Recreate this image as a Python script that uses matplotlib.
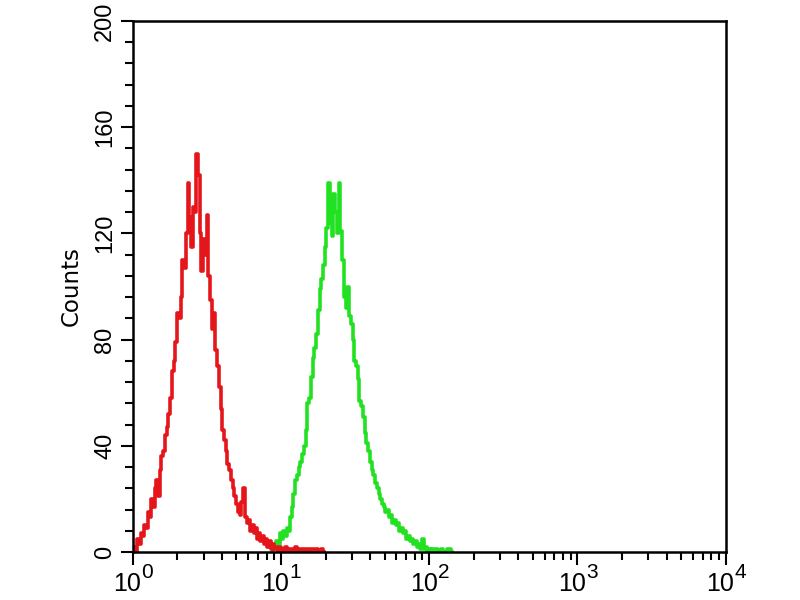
import numpy as np
import matplotlib
matplotlib.use("Agg")
import matplotlib.pyplot as plt
from matplotlib.ticker import MultipleLocator, LogLocator, NullFormatter
from matplotlib.transforms import offset_copy

# flow cytometry histogram, 1024 channels over 4 decades (256 ch / decade)
red_channels = [0, 3, 6, 9, 12, 15, 18, 21, 24, 27, 30, 33, 36, 39, 42, 45, 48, 51, 54, 57,
                60, 63, 66, 69, 72, 75, 78, 81, 84, 87, 90, 93, 96, 99, 102, 105, 108, 111, 114, 117,
                120, 123, 126, 129, 132, 135, 138, 141, 144, 147, 150, 153, 156, 159, 162, 165, 168, 171, 174, 177,
                180, 183, 186, 189, 192, 195, 198, 201, 204, 207, 210, 213, 216, 219, 222, 225, 228, 231, 234, 237,
                240, 243, 246, 249, 252, 255, 258, 261, 264, 267, 270, 273, 276, 279, 282, 285, 288, 291, 294, 297,
                300, 303, 306, 309, 312, 315, 318, 321, 324, 327, 330]
red_counts = [0, 2, 0, 5, 3, 7, 6, 10, 9, 15, 13, 20, 17, 24, 27, 21, 31, 36, 38, 44,
              47, 52, 58, 68, 72, 79, 90, 88, 96, 110, 107, 120, 139, 126, 115, 130, 128, 150, 142, 120,
              106, 118, 112, 127, 104, 95, 84, 90, 76, 70, 62, 54, 46, 42, 38, 33, 31, 27, 24, 21,
              18, 15, 14, 19, 24, 13, 11, 12, 8, 10, 7, 9, 5, 7, 4, 6, 3, 5, 2, 4,
              1, 3, 1, 2, 0, 2, 1, 0, 2, 0, 1, 0, 1, 0, 2, 0, 1, 0, 1, 0,
              1, 0, 1, 0, 1, 0, 1, 0, 0, 1, 0]

green_channels = [240, 243, 246, 249, 252, 255, 258, 261, 264, 267, 270, 273, 276, 279, 282, 285, 288, 291, 294, 297,
                  300, 303, 306, 309, 312, 315, 318, 321, 324, 327, 330, 333, 336, 339, 342, 345, 348, 351, 354, 357,
                  360, 363, 366, 369, 372, 375, 378, 381, 384, 387, 390, 393, 396, 399, 402, 405, 408, 411, 414, 417,
                  420, 423, 426, 429, 432, 435, 438, 441, 444, 447, 450, 453, 456, 459, 462, 465, 468, 471, 474, 477,
                  480, 483, 486, 489, 492, 495, 498, 501, 504, 507, 510, 513, 516, 519, 522, 525, 528, 531, 534, 537,
                  540, 546, 552]
green_counts = [0, 2, 1, 4, 3, 7, 5, 8, 6, 9, 8, 13, 17, 22, 27, 29, 32, 34, 37, 40,
                46, 56, 58, 66, 73, 77, 82, 91, 99, 103, 108, 115, 122, 139, 124, 119, 135, 128, 120, 139,
                121, 110, 96, 92, 100, 89, 86, 80, 72, 70, 65, 57, 55, 51, 45, 41, 38, 34, 31, 29,
                26, 24, 22, 20, 18, 17, 15, 16, 13, 14, 11, 12, 10, 11, 8, 9, 7, 8, 5, 6,
                4, 5, 3, 4, 2, 3, 1, 5, 1, 2, 0, 1, 0, 1, 0, 1, 0, 0, 1, 0,
                0, 1, 0]

yticks = [0, 40, 80, 120, 160, 200]
decades = [0, 1, 2, 3, 4]

plt.rcParams['font.family'] = ['Liberation Sans', 'DejaVu Sans']

fig = plt.figure(figsize=(8, 6), dpi=100)
ax = fig.add_axes([0.166, 0.08, 0.741, 0.885])

red_x = 10 ** (np.array(red_channels) / 256.0)
green_x = 10 ** (np.array(green_channels) / 256.0)
ax.step(green_x, green_counts, where='mid', color='#22e022', lw=2.6)
ax.step(red_x, red_counts, where='mid', color='#e5161b', lw=2.6)

ax.set_xscale('log')
ax.set_xlim(1, 1e4)
ax.set_ylim(0, 200)
ax.set_yticks(yticks)
ax.yaxis.set_minor_locator(MultipleLocator(8))
ax.xaxis.set_major_locator(LogLocator(base=10, numticks=10))
ax.xaxis.set_minor_locator(LogLocator(base=10, subs=np.arange(2, 10), numticks=20))
ax.xaxis.set_minor_formatter(NullFormatter())

for s in ax.spines.values():
    s.set_linewidth(1.8)
ax.tick_params(which='major', length=9, width=1.5, direction='out')
ax.tick_params(which='minor', length=5.5, width=1.5, direction='out')
ax.tick_params(axis='y', which='major', pad=3, labelsize=17)
ax.tick_params(axis='x', labelbottom=False)
for lab in ax.get_yticklabels():
    lab.set_rotation(90)
    lab.set_va('center')

# x labels drawn as "10" with a big exponent, like the instrument software
trans = ax.get_xaxis_transform()
for d in decades:
    ax.text(10 ** d, 0, '10', fontsize=18, ha='center', va='center',
            transform=offset_copy(trans, fig, x=-5.5, y=-32, units='dots'), clip_on=False)
    ax.text(10 ** d, 0, str(d), fontsize=15, ha='left', va='center',
            transform=offset_copy(trans, fig, x=8.5, y=-20, units='dots'), clip_on=False)

ax.set_ylabel('Counts', fontsize=16.5, family='DejaVu Sans')
ax.yaxis.set_label_coords(-0.084, 0.5)

fig.savefig('out.png', dpi=100)
